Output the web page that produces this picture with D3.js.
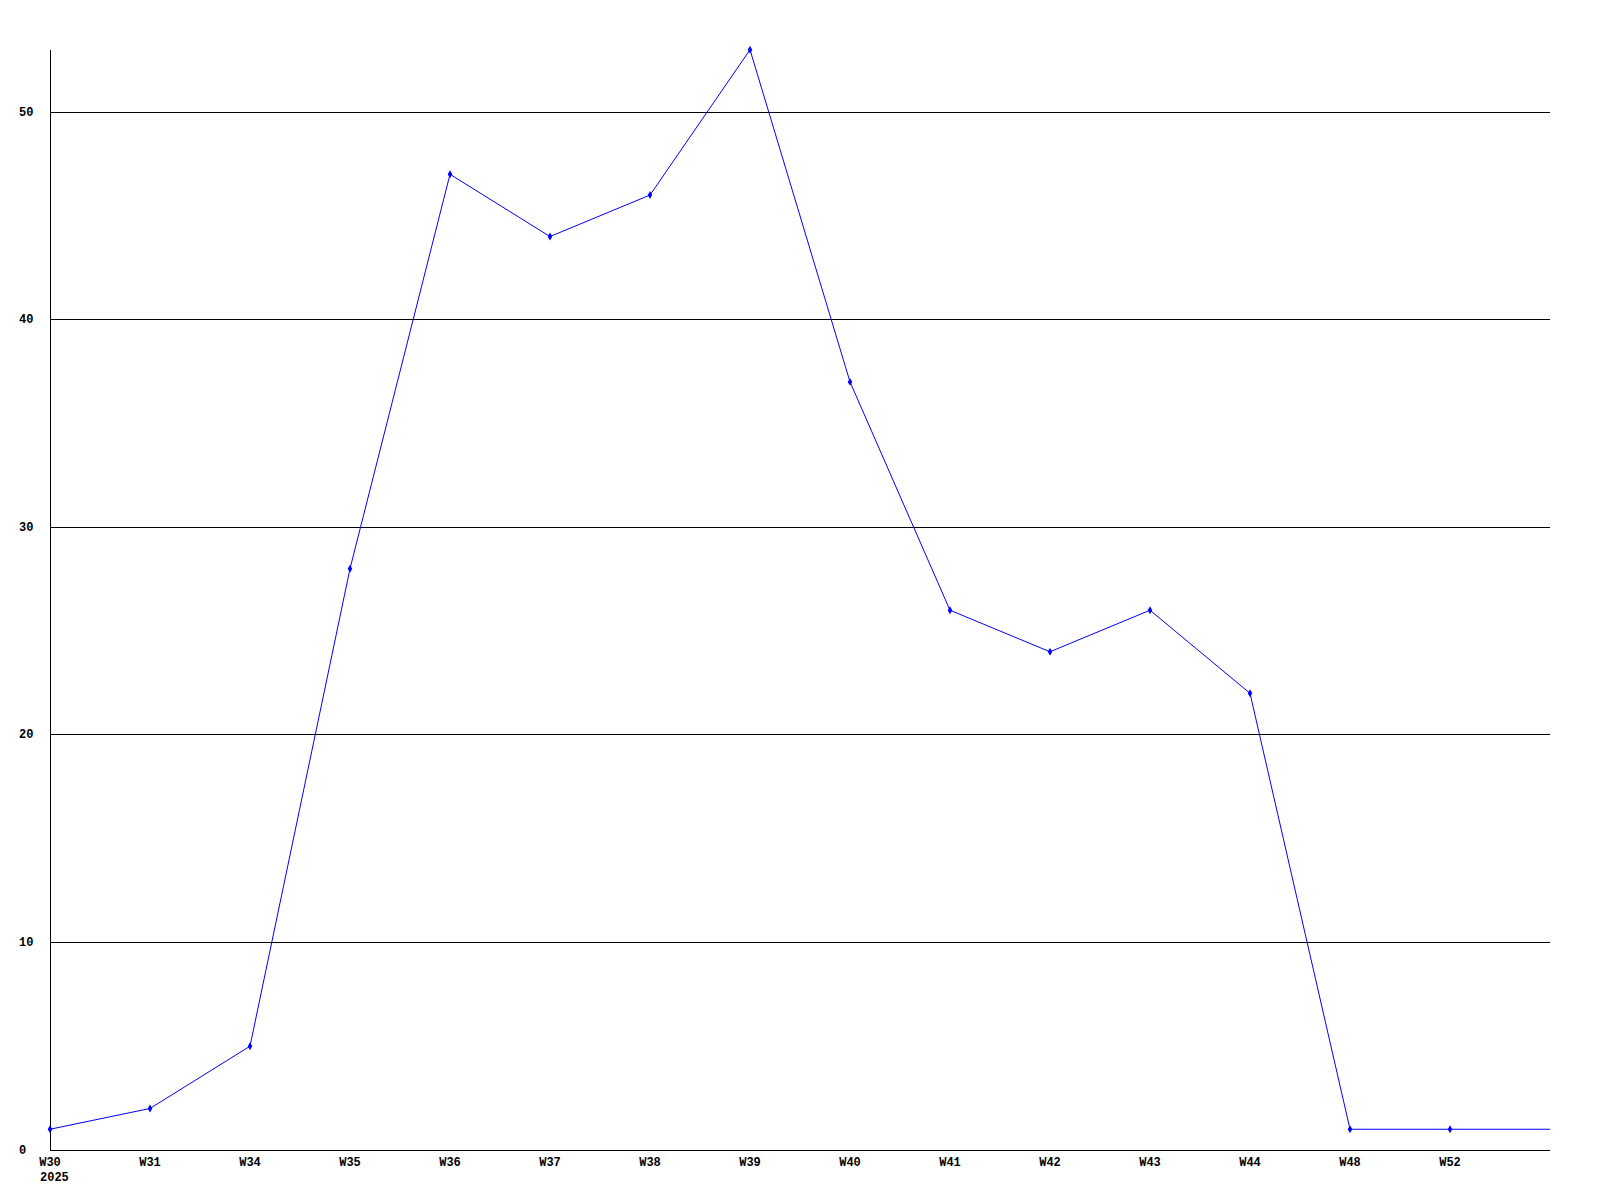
<!DOCTYPE html>
<html><head><meta charset="utf-8">
<script src="https://cdn.jsdelivr.net/npm/d3@7"></script>
<style>body{margin:0;background:#fff}svg{display:block}</style>
</head><body>
<script>
const categories = ["W30","W31","W34","W35","W36","W37","W38","W39","W40","W41","W42","W43","W44","W48","W52"];
const values = [1,2,5,28,47,44,46,53,37,26,24,26,22,1,1];
const yearLabel = "2025";
const yTicks = [0,10,20,30,40,50];

const W = 1600, H = 1200;
const mLeft = 50, mRight = 1550, mTop = 50, mBottom = 1150;
const svg = d3.select("body").append("svg").attr("width", W).attr("height", H);

const x = d3.scaleLinear().domain([0, categories.length]).range([mLeft, mRight]);
const y = d3.scaleLinear().domain([0, 50]).range([mBottom, 112]);

const font = "'Liberation Mono', 'DejaVu Sans Mono', monospace";

// gridlines
svg.append("g").selectAll("line").data(yTicks.filter(d => d > 0)).join("line")
  .attr("x1", mLeft).attr("x2", mRight)
  .attr("y1", d => Math.floor(y(d)) + 0.5).attr("y2", d => Math.floor(y(d)) + 0.5)
  .attr("stroke", "#000").attr("stroke-width", 1).attr("shape-rendering", "crispEdges");

// axes
svg.append("line").attr("x1", mLeft + 0.5).attr("x2", mLeft + 0.5).attr("y1", mTop).attr("y2", mBottom)
  .attr("stroke", "#000").attr("shape-rendering", "crispEdges");
svg.append("line").attr("x1", mLeft).attr("x2", mRight).attr("y1", mBottom + 0.5).attr("y2", mBottom + 0.5)
  .attr("stroke", "#000").attr("shape-rendering", "crispEdges");

// y labels
svg.append("g").selectAll("text").data(yTicks).join("text")
  .attr("x", 19).attr("y", d => Math.floor(y(d)) + 4)
  .attr("font-family", font).attr("font-weight", "bold").attr("font-size", 12)
  .attr("fill", "#000").text(d => d);

// x labels
svg.append("g").selectAll("text").data(categories).join("text")
  .attr("x", (d, i) => x(i)).attr("y", 1166)
  .attr("text-anchor", "middle")
  .attr("font-family", font).attr("font-weight", "bold").attr("font-size", 12)
  .attr("fill", "#000").text(d => d);
svg.append("text").attr("x", x(0) - 10).attr("y", 1181)
  .attr("font-family", font).attr("font-weight", "bold").attr("font-size", 12)
  .attr("fill", "#000").text(yearLabel);

// line (last value held to the end of the plot)
const pts = values.map((v, i) => [x(i), y(v)]);
pts.push([x(categories.length), y(values[values.length - 1])]);
svg.append("path").attr("d", d3.line()(pts))
  .attr("fill", "none").attr("stroke", "#0000ff").attr("stroke-width", 1);

// markers
svg.append("g").selectAll("path").data(values).join("path")
  .attr("transform", (d, i) => `translate(${x(i)},${y(d)})`)
  .attr("d", d3.symbol().type(d3.symbolDiamond).size(18))
  .attr("fill", "#0000ff");
</script>
</body></html>
